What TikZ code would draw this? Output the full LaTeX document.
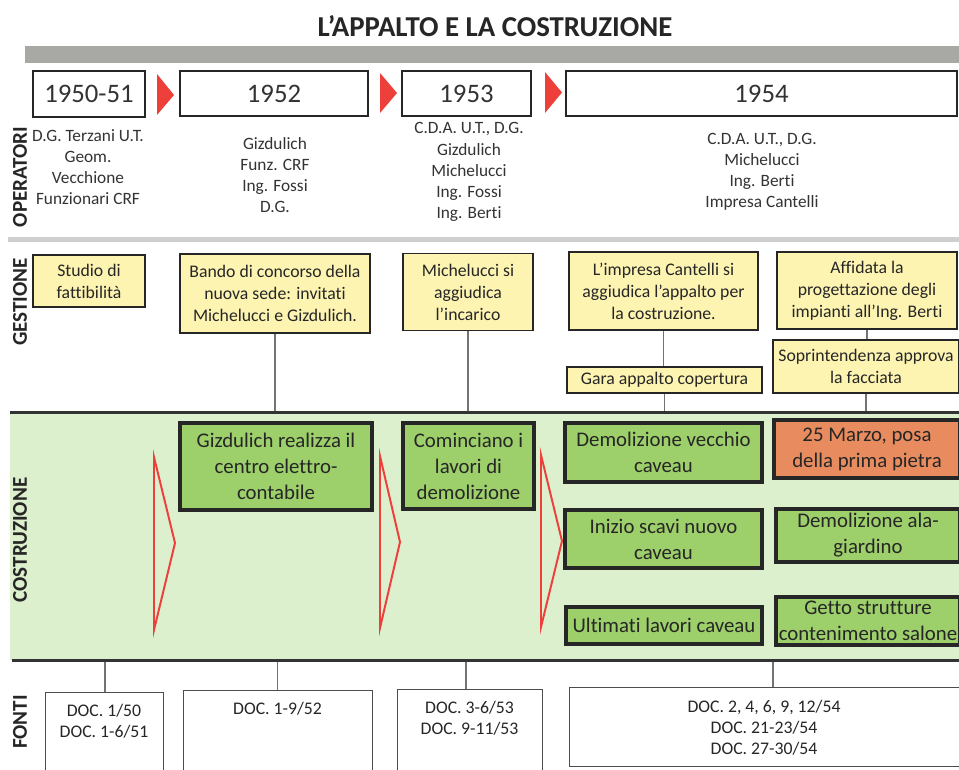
\documentclass[tikz,border=0pt]{standalone}
\usepackage{fontspec}
\setmainfont{Carlito}[Ligatures=NoCommon]
\usetikzlibrary{positioning}
\definecolor{gestyellow}{HTML}{FDF4B2}
\definecolor{costgreen}{HTML}{9DCF6B}
\definecolor{costbg}{HTML}{DDF0CE}
\definecolor{posaorange}{HTML}{E88C5F}
\definecolor{arrowred}{HTML}{EE403A}
\definecolor{bargray}{HTML}{A8A8A4}
\definecolor{seplight}{HTML}{CFCFCF}
\definecolor{sepdark}{HTML}{333333}

\begin{document}
\begin{tikzpicture}[x=0.025cm,y=-0.025cm,
  yearbox/.style={draw=black!85,line width=2pt,fill=white,inner sep=0pt,text=black!80,font=\fontsize{19}{22}\selectfont},
  optxt/.style={align=center,text=black!80,font=\fontsize{12.3}{15}\selectfont},
  gestbox/.style={draw=black!85,line width=1.4pt,fill=gestyellow,align=center,inner sep=0pt,text=black!85,font=\fontsize{12.6}{15.6}\selectfont},
  costbox/.style={draw=black!85,line width=2.2pt,fill=costgreen,align=center,inner sep=0pt,text=black!85,font=\fontsize{14.8}{18.5}\selectfont},
  fontebox/.style={draw=black!70,line width=0.6pt,fill=white,anchor=north,inner sep=0pt},
  fontetxt/.style={align=center,text=black!85,font=\fontsize{12.6}{15}\selectfont},
  seclabel/.style={rotate=90,text=black!85,font=\fontsize{15}{15}\bfseries\selectfont},
  link/.style={draw=black!55,line width=0.8pt},
  redline/.style={draw=arrowred,line width=1.4pt,line join=miter}]

\useasboundingbox [fill=white] (0,0) rectangle (959,769) ;

%title and top bar
\node [font=\fontsize{20.5}{24}\bfseries\selectfont,text=black!85] (title) at (495,26) {L’APPALTO E LA COSTRUZIONE} ;
\fill [bargray] (25,46) rectangle (962,63) ;

%section bands
\draw [seplight,line width=3.5pt] (8,239.5) -- (962,239.5) ;
\fill [costbg] (10,413) rectangle (962,660) ;
\draw [sepdark,line width=2.8pt] (10,412.5) -- (962,412.5) ;
\draw [sepdark,line width=2.8pt] (12,660.5) -- (962,660.5) ;
\coordinate (costtop) at (10,411) ;
\coordinate (costbot) at (12,662) ;

%section labels
\node [seclabel] (lop) at (20,177) {OPERATORI} ;
\node [seclabel] (lge) at (20,302) {GESTIONE} ;
\node [seclabel] (lco) at (20,540) {COSTRUZIONE} ;
\node [seclabel] (lfo) at (20,722) {FONTI} ;

%years
\node [yearbox,minimum width=2.8cm,minimum height=1.15cm] (y1) at (89,94) {1950-51} ;
\node [yearbox,minimum width=4.7cm,minimum height=1.125cm] (y2) at (274,93.5) {1952} ;
\node [yearbox,minimum width=3.225cm,minimum height=1.125cm] (y3) at (466.5,93.5) {1953} ;
\node [yearbox,minimum width=9.775cm,minimum height=1.125cm] (y4) at (761.5,93.5) {1954} ;

%red arrows between years
\fill [arrowred] (157,74) -- (174,95) -- (157,115) -- cycle ;
\fill [arrowred] (380,73) -- (397,93) -- (380,113) -- cycle ;
\fill [arrowred] (545,72) -- (562,92.5) -- (545,113) -- cycle ;

%operatori
\node [optxt] (op1) at (88,167) {D.G. Terzani U.T.\\Geom.\\Vecchione\\Funzionari CRF} ;
\node [optxt] (op2) at (275,175) {Gizdulich\\Funz. CRF\\Ing. Fossi\\D.G.} ;
\node [optxt] (op3) at (469,172) {C.D.A. U.T., D.G.\\Gizdulich\\Michelucci\\Ing. Fossi\\Ing. Berti} ;
\node [optxt] (op4) at (762,172) {C.D.A. U.T., D.G.\\Michelucci\\Ing. Berti\\Impresa Cantelli} ;

%gestione
\node [gestbox,minimum width=2.8cm,minimum height=1.3cm] (g1) at (89,281) {Studio di\\fattibilità} ;
\node [gestbox,minimum width=4.75cm,minimum height=1.975cm] (g2) at (275,293.5) {Bando di concorso della\\nuova sede: invitati\\Michelucci e Gizdulich.} ;
\node [gestbox,minimum width=3.25cm,minimum height=1.925cm] (g3) at (468,292) {Michelucci si\\aggiudica\\l’incarico} ;
\node [gestbox,minimum width=4.725cm,minimum height=1.95cm] (g4) at (663.5,291) {L’impresa Cantelli si\\aggiudica l’appalto per\\la costruzione.} ;
\node [gestbox,minimum width=4.5cm,minimum height=1.925cm] (g5) at (867,290.5) {Affidata la\\progettazione degli\\impianti all’Ing. Berti} ;
\node [gestbox,minimum width=4.875cm,minimum height=0.65cm] (g6) at (664.5,380) {Gara appalto copertura} ;
\node [gestbox,minimum width=4.65cm,minimum height=1.325cm] (g7) at (866,366.5) {Soprintendenza approva\\la facciata} ;

%gestione links
\draw [link] (g2.south) -- (g2.south |- costtop) ;
\draw [link] (g3.south) -- (g3.south |- costtop) ;
\draw [link] (g4.south) -- (g6.north -| g4.south) ;
\draw [link] (g6.south) -- (g6.south |- costtop) ;
\draw [link] (g5.south) -- (g7.north -| g5.south) ;
\draw [link] (g7.south) -- (g7.south |- costtop) ;

%costruzione
\node [costbox,minimum width=4.8cm,minimum height=2.175cm] (c1) at (276,466.5) {Gizdulich realizza il\\centro elettro-\\contabile} ;
\node [costbox,minimum width=3.275cm,minimum height=2.15cm] (c2) at (468.5,466) {Cominciano i\\lavori di\\demolizione} ;
\node [costbox,minimum width=4.925cm,minimum height=1.475cm] (c3) at (663.5,452.5) {Demolizione vecchio\\caveau} ;
\node [costbox,fill=posaorange,minimum width=4.65cm,minimum height=1.45cm] (c4) at (867,449) {25 Marzo, posa\\della prima pietra} ;
\node [costbox,minimum width=4.925cm,minimum height=1.45cm] (c5) at (663.5,539) {Inizio scavi nuovo\\caveau} ;
\node [costbox,minimum width=4.6cm,minimum height=1.325cm] (c6) at (868,535.5) {Demolizione ala-\\giardino} ;
\node [costbox,minimum width=4.9cm,minimum height=0.925cm] (c7) at (664,625.5) {Ultimati lavori caveau} ;
\node [costbox,minimum width=4.6cm,minimum height=1.2cm] (c8) at (868,621) {Getto strutture\\contenimento salone} ;

%red outlines
\draw [redline] (154,457) -- (175,543) -- (154,630) -- cycle ;
\draw [redline] (380,456) -- (400,542) -- (380,628) -- cycle ;
\draw [redline] (541,455) -- (562,541) -- (541,627) -- cycle ;

%fonti
\node [fontebox,minimum width=2.95cm,minimum height=2.4cm] (f1) at (104,692) {} ;
\node [fontebox,minimum width=4.725cm,minimum height=2.4cm] (f2) at (277.5,690) {} ;
\node [fontebox,minimum width=3.625cm,minimum height=2.4cm] (f3) at (469.5,689) {} ;
\node [fontebox,minimum width=9.75cm,minimum height=1.975cm] (f4) at (764,687) {} ;

\node [fontetxt,below=5pt of f1.north] (t1) {DOC. 1/50\\DOC. 1-6/51} ;
\node [fontetxt,below=5pt of f2.north] (t2) {DOC. 1-9/52} ;
\node [fontetxt,below=5pt of f3.north] (t3) {DOC. 3-6/53\\DOC. 9-11/53} ;
\node [fontetxt,below=6pt of f4.north] (t4) {DOC. 2, 4, 6, 9, 12/54\\DOC. 21-23/54\\DOC. 27-30/54} ;

%fonti links
\draw [link] (f1.north -| 105,0) -- (costbot -| 105,0) ;
\draw [link] (f2.north) -- (f2.north |- costbot) ;
\draw [link] (f3.north -| 466,0) -- (costbot -| 466,0) ;
\draw [link] (f4.north -| 773,0) -- (costbot -| 773,0) ;

\end{tikzpicture}
\end{document}
